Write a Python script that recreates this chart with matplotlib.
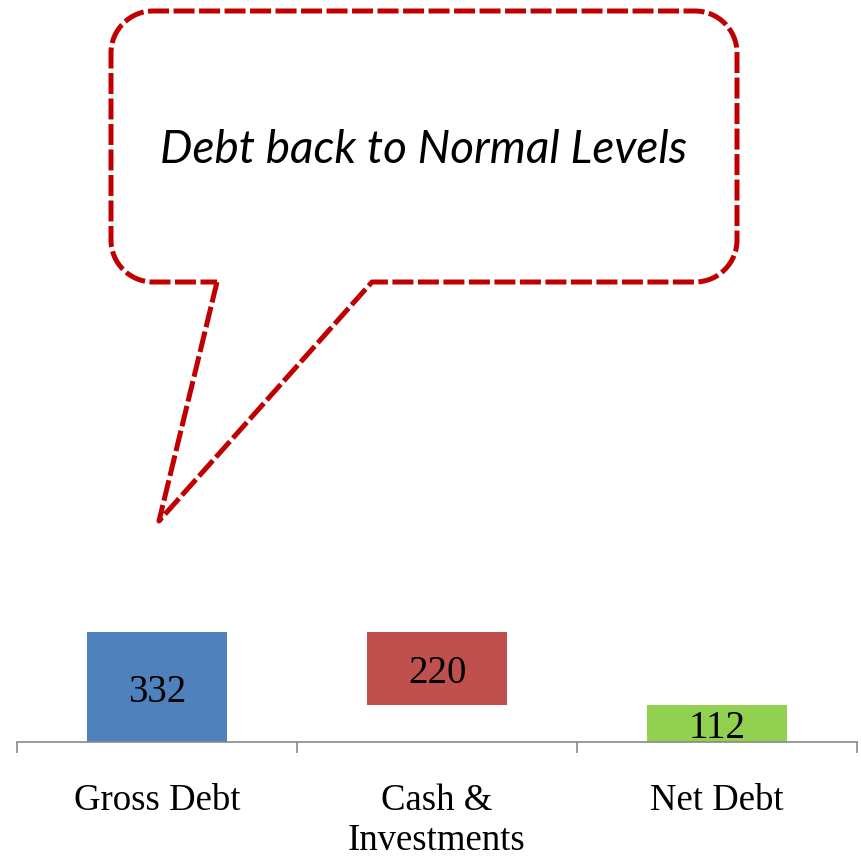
import matplotlib.pyplot as plt
import matplotlib.patches as mpatches
from matplotlib.path import Path
from matplotlib.transforms import Affine2D
import numpy as np

categories = ['Gross Debt', 'Cash &\nInvestments', 'Net Debt']
values = [332, 220, 112]
bottoms = [0, 112, 0]          # cash bar floats between net and gross debt
colors = ['#4F81BD', '#C0504D', '#92D050']
callout_text = 'Debt back to Normal Levels'

W, H = 862, 857
fig = plt.figure(figsize=(W / 100, H / 100), dpi=100)
ax = fig.add_axes([17 / W, 115 / H, 840 / W, 730 / H])

x = np.arange(len(categories))
ax.bar(x, values, width=0.5, bottom=bottoms, color=colors, zorder=2)
for xi, v, b in zip(x, values, bottoms):
    ax.annotate(str(v), (xi, b + v / 2), xytext=(0, -4), textcoords='offset points',
                ha='center', va='center', fontsize=28,
                family='Liberation Serif', color='black')

ax.set_xlim(-0.5, 2.5)
ax.set_ylim(0, 2203)
for s in ['top', 'right', 'left']:
    ax.spines[s].set_visible(False)
ax.spines['bottom'].set_color('#898989')
ax.spines['bottom'].set_linewidth(1.2)
ax.set_yticks([])
ax.set_xticks([-0.5, 0.5, 1.5, 2.5])
ax.set_xticklabels([])
ax.set_xticks(x, minor=True)
ax.set_xticklabels(categories, minor=True, fontsize=26.5,
                   family='Liberation Serif', linespacing=1.2)
ax.tick_params(axis='x', which='major', direction='out', length=8,
               width=1.2, color='#898989')
ax.tick_params(axis='x', which='minor', length=0, pad=30)

# speech-bubble callout, drawn in pixel coordinates (y downward)
px = Affine2D().scale(1, -1).translate(0, H).scale(1 / W, 1 / H) + fig.transFigure
L, R, T, B, r = 111, 737, 11, 282, 42
k = 0.5523 * r
verts = [(217, B), (159, 521), (372, B),
         (R - r, B),
         (R - r + k, B), (R, B - r + k), (R, B - r),
         (R, T + r),
         (R, T + r - k), (R - r + k, T), (R - r, T),
         (L + r, T),
         (L + r - k, T), (L, T + r - k), (L, T + r),
         (L, B - r),
         (L, B - r + k), (L + r - k, B), (L + r, B),
         (217, B)]
codes = [Path.MOVETO, Path.LINETO, Path.LINETO,
         Path.LINETO,
         Path.CURVE4, Path.CURVE4, Path.CURVE4,
         Path.LINETO,
         Path.CURVE4, Path.CURVE4, Path.CURVE4,
         Path.LINETO,
         Path.CURVE4, Path.CURVE4, Path.CURVE4,
         Path.LINETO,
         Path.CURVE4, Path.CURVE4, Path.CURVE4,
         Path.LINETO]
bubble = mpatches.PathPatch(Path(verts, codes), transform=px, facecolor='white',
                            edgecolor='#C00000', linewidth=3.6,
                            linestyle=(0, (4.2, 0.9)), capstyle='butt',
                            joinstyle='round', zorder=5)
fig.add_artist(bubble)
fig.text(424 / W, 1 - 150 / H, callout_text, ha='center', va='center',
         fontsize=33, style='italic', family='Lato', color='black', zorder=6)

fig.savefig('out.png', dpi=100)
